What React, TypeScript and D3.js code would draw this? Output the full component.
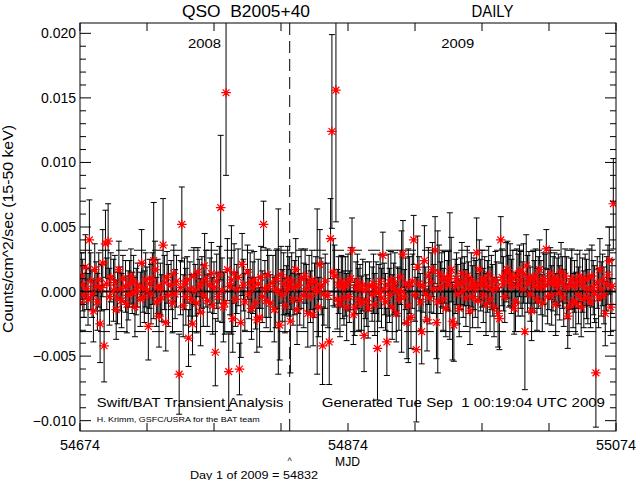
import React from "react";
import * as d3 from "d3";

// Swift/BAT daily light curve of QSO B2005+40; index i -> MJD = START_MJD + i (null = no data)
const START_MJD = 54674;
const X_DOMAIN = [54674, 55074];
const Y_DOMAIN = [-0.0108, 0.0208];
const X_TICK_STEP = 50;
const X_LABELS = [54674, 54874, 55074];
const Y_MAJOR = [-0.01, -0.005, 0, 0.005, 0.01, 0.015, 0.02];
const Y_MINOR_STEP = 0.001;
const UPPER_LIMIT = 0.0032;
const LOWER_LIMIT = -0.0031;
const YEAR_MARK_MJD = 54830.5;
const YEAR_LABELS = [
  { text: "2008", mjd: 54767 },
  { text: "2009", mjd: 54956 },
];

const RATE: (number | null)[] = [
  -0.0009, 0.0012, 0.0005, -0.0003, 0.0019, 0.0002, -0.0006, 0.004, 0.0008, -0.0002,
  -0.0015, 0.0017, 0.0004, -0.0008, 0.0009, -0.0025, 0.0003, 0.0022, -0.0042, 0.0037,
  0.0006, 0.0039, -0.0004, 0.0011, null, 0.0001, 0.0007, -0.0014, -0.0005, 0.0017,
  0.0002, -0.0007, 0.001, null, 0.0004, -0.001, -0.0003, 0.0006, 0.0012, -0.0001,
  0.0008, -0.0012, 0.0, 0.0005, null, -0.0006, 0.0022, 0.0003, -0.0004, 0.0009,
  0.0001, -0.0027, 0.0006, -0.0002, 0.001, 0.0024, 0.0017, -0.0008, 0.0004, -0.0019,
  0.0002, -0.0005, 0.0036, 0.0007, -0.0024, 0.0011, -0.0003, null, 0.0005, -0.0009,
  0.0014, -0.0002, 0.0008, null, -0.0064, 0.0003, 0.0052, -0.0011, 0.0006, -0.0004,
  0.0009, -0.0036, 0.0002, -0.0006, -0.0025, 0.0012, 0.0001, -0.0009, 0.0015, 0.0004,
  -0.0016, 0.0007, -0.0003, 0.002, 0.001, -0.0007, null, 0.0005, 0.0014, -0.0011,
  0.0003, -0.0047, 0.0008, -0.0004, 0.0013, 0.0065, 0.0001, -0.0012, -0.0009, 0.0154,
  0.0017, -0.0062, 0.0004, 0.0009, -0.0021, 0.0014, -0.0006, 0.0002, 0.0011, -0.006,
  -0.0024, 0.0021, 0.0005, -0.0008, null, 0.0015, -0.0002, 0.0007, -0.0013, 0.0003,
  0.0009, -0.0009, -0.0022, 0.0006, -0.002, 0.0011, -0.0004, 0.0052, 0.0002, -0.0007,
  0.0013, 0.0004, -0.0009, null, 0.0007, -0.0014, 0.0002, 0.001, 0.0, -0.0026,
  0.0013, -0.0003, 0.0006, -0.0011, 0.0001, 0.0009, 0.0004, -0.0023, 0.0008, -0.0006,
  0.0003, 0.0017, -0.0014, 0.0005, -0.0006, 0.001, null, -0.0003, 0.0012, 0.0002,
  -0.0017, 0.0006, -0.0004, 0.0009, -0.0018, 0.0001, 0.0007, 0.0, -0.0012, 0.0021,
  0.0004, -0.0042, -0.0002, 0.0008, null, -0.0003, -0.0039, 0.0041, 0.0124, 0.0015,
  0.0012, 0.0156, -0.0006, 0.0005, -0.001, 0.0008, 0.0003, -0.0005, 0.0004, -0.0012,
  0.0007, -0.0004, 0.001, 0.0032, -0.0018, -0.0012, 0.0003, 0.0008, -0.0006, 0.0002,
  -0.0009, 0.0005, -0.0034, 0.0001, -0.0007, -0.0013, 0.0004, null, -0.0002, 0.0006,
  -0.001, 0.0003, -0.0044, -0.0001, 0.0008, -0.0005, 0.0028, 0.0002, -0.0008, -0.0039,
  0.0005, -0.0003, 0.0009, -0.0012, 0.0002, 0.0007, -0.0017, 0.0, -0.0006, 0.0011,
  0.0, 0.0029, -0.0004, 0.0006, -0.0024, -0.0011, 0.0005, -0.002, 0.0008, 0.004,
  -0.0003, -0.0045, 0.0019, 0.0006, -0.0008, -0.0031, 0.0004, 0.0024, -0.0002, -0.0022,
  0.0012, -0.0005, 0.0007, 0.0017, 0.0002, 0.0032, -0.0024, -0.0008, 0.0014, 0.0003,
  0.0009, -0.0006, 0.0011, -0.0013, 0.0005, 0.0008, 0.0012, 0.0017, -0.0023, -0.0026,
  0.0004, 0.001, -0.0002, -0.0013, 0.0006, 0.0014, 0.0001, 0.0008, -0.0005, 0.0012,
  0.0003, -0.0015, 0.0009, -0.0004, 0.0006, 0.0002, 0.003, -0.0007, 0.0017, 0.0005,
  0.001, -0.0003, 0.0008, -0.001, 0.0004, 0.0013, -0.0006, 0.0007, 0.0001, -0.0012,
  0.0009, 0.0003, -0.0017, -0.0021, 0.004, 0.0011, 0.0006, -0.0004, 0.0015, 0.0017,
  0.0008, 0.0013, 0.0004, 0.001, -0.0013, -0.0008, 0.0012, 0.0005, 0.0016, 0.0009,
  0.0002, 0.0014, -0.0031, 0.002, 0.0006, 0.0011, -0.0002, -0.0015, 0.0009, 0.0004,
  0.0012, -0.0006, 0.0007, 0.0017, 0.0003, -0.0009, 0.001, 0.0005, 0.0033, -0.0004,
  0.0008, 0.0014, -0.0003, 0.0006, 0.0011, -0.001, 0.0004, 0.0009, -0.0001, 0.0015,
  0.0007, -0.0005, 0.0012, 0.0003, -0.0019, -0.0012, 0.0006, 0.001, -0.0007, 0.0004,
  -0.0009, 0.0008, -0.0003, 0.0012, -0.0012, 0.0005, -0.0006, 0.0009, 0.0002, -0.0004,
  0.0011, -0.0008, 0.0012, 0.0003, -0.0002, -0.0063, 0.0007, -0.0005, 0.0017, 0.0002,
  0.0009, -0.0003, -0.0017, 0.0006, 0.0013, 0.0024, -0.0012, 0.0004, 0.0068, null,
];

const ERR: (number | null)[] = [
  0.0022, 0.0018, 0.002, 0.0017, 0.0025, 0.0016, 0.002, 0.0031, 0.0022, 0.0018,
  0.0024, 0.002, 0.0019, 0.0022, 0.0021, 0.003, 0.0018, 0.0026, 0.0028, 0.0026,
  0.002, 0.0029, 0.0022, 0.0019, null, 0.0024, 0.0021, 0.0023, 0.002, 0.0022,
  0.0017, 0.0021, 0.0018, null, 0.002, 0.0022, 0.0019, 0.0018, 0.0021, 0.0016,
  0.002, 0.0023, 0.0018, 0.0017, null, 0.0021, 0.0026, 0.0019, 0.002, 0.0021,
  0.0018, 0.0026, 0.0019, 0.0023, 0.002, 0.0045, 0.0022, 0.0019, 0.0021, 0.0024,
  0.002, 0.0018, 0.0036, 0.0021, 0.0022, 0.002, 0.0024, null, 0.0019, 0.0023,
  0.0022, 0.0019, 0.002, null, 0.0031, 0.0021, 0.0029, 0.0024, 0.002, 0.0022,
  0.0018, 0.0022, 0.0021, 0.0019, 0.0024, 0.0022, 0.002, 0.0023, 0.0019, 0.0021,
  0.0026, 0.002, 0.0024, 0.0025, 0.0022, 0.002, null, 0.0021, 0.0024, 0.0022,
  0.002, 0.0026, 0.0021, 0.0019, 0.0022, 0.0056, 0.0025, 0.0027, 0.0024, 0.0064,
  0.0024, 0.003, 0.0022, 0.0042, 0.0026, 0.0023, 0.0021, 0.0019, 0.0022, 0.002,
  0.0027, 0.0024, 0.002, 0.0022, null, 0.0021, 0.0019, 0.0023, 0.0024, 0.002,
  0.0022, 0.002, 0.0025, 0.0019, 0.0023, 0.0024, 0.002, 0.0018, 0.0022, 0.0021,
  0.002, 0.0024, 0.0022, null, 0.0021, 0.0025, 0.003, 0.0023, 0.0064, 0.0027,
  0.0022, 0.002, 0.0024, 0.0021, 0.0019, 0.0026, 0.0023, 0.004, 0.0022, 0.002,
  0.0021, 0.0024, 0.0027, 0.0022, 0.002, 0.0023, null, 0.0025, 0.0021, 0.0019,
  0.0026, 0.0022, 0.002, 0.0023, 0.0024, 0.0021, 0.002, 0.0064, 0.0023, 0.0027,
  0.0022, 0.003, 0.0024, 0.0021, null, 0.0025, 0.0033, 0.0031, 0.0075, 0.0026,
  0.0024, 0.0102, 0.0023, 0.0022, 0.0025, 0.002, 0.0024, 0.0021, 0.0023, 0.0026,
  0.0022, 0.002, 0.0024, 0.0025, 0.0023, 0.0022, 0.002, 0.0021, 0.0024, 0.0019,
  0.0021, 0.002, 0.0028, 0.0022, 0.002, 0.0023, 0.0019, null, 0.0021, 0.0023,
  0.0024, 0.002, 0.004, 0.0022, 0.0021, 0.0023, 0.0018, 0.002, 0.0022, 0.0026,
  0.0024, 0.0021, 0.0022, 0.0025, 0.002, 0.0023, 0.0022, 0.0019, 0.0024, 0.0021,
  0.0047, 0.0026, 0.0021, 0.002, 0.0028, 0.0044, 0.0022, 0.0024, 0.0021, 0.0019,
  0.002, 0.0056, 0.0024, 0.0021, 0.0022, 0.0025, 0.002, 0.0027, 0.0021, 0.0024,
  0.0022, 0.002, 0.0023, 0.0021, 0.0019, 0.0026, 0.0028, 0.0055, 0.0022, 0.002,
  0.0021, 0.0024, 0.002, 0.0022, 0.0019, 0.0023, 0.0049, 0.0025, 0.003, 0.0028,
  0.0021, 0.002, 0.0023, 0.0022, 0.002, 0.0024, 0.0021, 0.0019, 0.0022, 0.0023,
  0.002, 0.0026, 0.0021, 0.0024, 0.002, 0.0022, 0.0027, 0.0021, 0.0023, 0.002,
  0.0022, 0.0021, 0.0019, 0.0024, 0.002, 0.0022, 0.0025, 0.0021, 0.002, 0.0023,
  0.0022, 0.002, 0.0026, 0.0024, 0.0018, 0.0022, 0.0021, 0.002, 0.0023, 0.0022,
  0.002, 0.0024, 0.0021, 0.0022, 0.002, 0.0023, 0.0021, 0.0024, 0.002, 0.0022,
  0.0021, 0.0023, 0.0045, 0.0024, 0.0022, 0.002, 0.0021, 0.0023, 0.0022, 0.002,
  0.0021, 0.0024, 0.002, 0.0023, 0.0021, 0.0022, 0.002, 0.0024, 0.0015, 0.0021,
  0.0022, 0.002, 0.0023, 0.0021, 0.0019, 0.0024, 0.0022, 0.002, 0.0021, 0.0023,
  0.002, 0.0022, 0.0021, 0.0024, 0.0025, 0.0022, 0.002, 0.0023, 0.0021, 0.002,
  0.0024, 0.0021, 0.0022, 0.002, 0.0023, 0.0021, 0.0022, 0.002, 0.0023, 0.0021,
  0.0022, 0.002, 0.0024, 0.0021, 0.0022, 0.0042, 0.002, 0.0023, 0.0024, 0.0021,
  0.002, 0.0022, 0.0025, 0.0021, 0.0023, 0.0026, 0.0022, 0.0021, 0.0035, null,
];

const FONT = "'Liberation Sans', Arial, sans-serif";

export default function App() {
  const L = 80, R = 616, T = 23, B = 431;
  const x = d3.scaleLinear().domain(X_DOMAIN).range([L, R]);
  const y = d3.scaleLinear().domain(Y_DOMAIN).range([B, T]);

  const points = RATE.map((r, i) =>
    r == null || ERR[i] == null ? null : { mjd: START_MJD + i, r, e: ERR[i] as number }
  ).filter((p): p is { mjd: number; r: number; e: number } => p !== null);

  const xTicks = d3.range(X_DOMAIN[0], X_DOMAIN[1] + 1, X_TICK_STEP);
  const yMinor = d3
    .range(Math.round(-0.01 / Y_MINOR_STEP), Math.round(0.02 / Y_MINOR_STEP) + 1)
    .map((k) => k * Y_MINOR_STEP)
    .filter((v) => !Y_MAJOR.some((m) => Math.abs(m - v) < 1e-9));
  const fmt = (v: number) => d3.format(".3f")(v).replace("-", "\u2212");

  const r = 4.8;
  const d = 3.4;
  const star = (cx: number, cy: number) =>
    `M${cx - r},${cy}H${cx + r}M${cx},${cy - r}V${cy + r}` +
    `M${cx - d},${cy - d}L${cx + d},${cy + d}M${cx - d},${cy + d}L${cx + d},${cy - d}`;

  const cap = 3;
  const barsPath = points
    .map((p) => {
      const cx = x(p.mjd);
      const y1 = y(p.r + p.e);
      const y0 = y(p.r - p.e);
      return `M${cx},${y0}V${y1}M${cx - cap},${y1}H${cx + cap}M${cx - cap},${y0}H${cx + cap}`;
    })
    .join("");
  const starsPath = points.map((p) => star(x(p.mjd), y(p.r))).join("");

  return (
    <svg
      width={640}
      height={480}
      style={{ position: "absolute", left: 0, top: 0, background: "#fff" }}
      fontFamily={FONT}
    >
      <defs>
        <clipPath id="plotclip">
          <rect x={L} y={T} width={R - L} height={B - T} />
        </clipPath>
      </defs>
      <rect x={0} y={0} width={640} height={480} fill="#fff" />

      <g clipPath="url(#plotclip)">
        <path d={barsPath} stroke="#000" strokeWidth={1} fill="none" />
        <line x1={L} x2={R} y1={y(0)} y2={y(0)} stroke="#000" strokeWidth={2} />
        <line x1={L} x2={R} y1={y(UPPER_LIMIT)} y2={y(UPPER_LIMIT)} stroke="#000" strokeWidth={1} strokeDasharray="12,6" />
        <line x1={L} x2={R} y1={y(LOWER_LIMIT)} y2={y(LOWER_LIMIT)} stroke="#000" strokeWidth={1} strokeDasharray="12,6" />
        <line x1={x(YEAR_MARK_MJD)} x2={x(YEAR_MARK_MJD)} y1={T} y2={B} stroke="#000" strokeWidth={1} strokeDasharray="12,6" />
        <path d={starsPath} stroke="#ff0000" strokeWidth={1.2} fill="none" />
      </g>

      {/* frame */}
      <rect x={L} y={T} width={R - L} height={B - T} fill="none" stroke="#000" strokeWidth={1} />

      {/* x ticks */}
      {xTicks.map((t) => (
        <g key={"xt" + t}>
          <line x1={x(t)} x2={x(t)} y1={B} y2={B - 8} stroke="#000" />
          <line x1={x(t)} x2={x(t)} y1={T} y2={T + 8} stroke="#000" />
        </g>
      ))}
      {X_LABELS.map((t) => (
        <text key={"xl" + t} x={x(t)} y={450} fontSize={14} textAnchor="middle" textLength={40} lengthAdjust="spacingAndGlyphs">
          {t}
        </text>
      ))}

      {/* y ticks */}
      {Y_MAJOR.map((v) => (
        <g key={"ym" + v}>
          <line x1={L} x2={L + 11} y1={y(v)} y2={y(v)} stroke="#000" />
          <line x1={R} x2={R - 11} y1={y(v)} y2={y(v)} stroke="#000" />
          <text x={76} y={y(v) + 5} fontSize={14} textAnchor="end">
            {fmt(v)}
          </text>
        </g>
      ))}
      {yMinor.map((v) => (
        <g key={"yn" + v}>
          <line x1={L} x2={L + 6} y1={y(v)} y2={y(v)} stroke="#000" />
          <line x1={R} x2={R - 6} y1={y(v)} y2={y(v)} stroke="#000" />
        </g>
      ))}

      {/* titles */}
      <text x={246} y={17} fontSize={16} textAnchor="middle" textLength={128} lengthAdjust="spacingAndGlyphs" style={{ whiteSpace: "pre" }}>
        {"QSO  B2005+40"}
      </text>
      <text x={492.5} y={17} fontSize={16} textAnchor="middle" textLength={42} lengthAdjust="spacingAndGlyphs">
        DAILY
      </text>
      {YEAR_LABELS.map((yl) => (
        <text key={yl.text} x={x(yl.mjd)} y={47.5} fontSize={13} textAnchor="middle" textLength={33} lengthAdjust="spacingAndGlyphs">
          {yl.text}
        </text>
      ))}

      <text
        transform="translate(13,229) rotate(-90)"
        fontSize={14}
        textAnchor="middle"
        textLength={208}
        lengthAdjust="spacingAndGlyphs"
      >
        Counts/cm^2/sec (15-50 keV)
      </text>

      <text x={347.5} y={465.5} fontSize={13} textAnchor="middle" textLength={25} lengthAdjust="spacingAndGlyphs">
        MJD
      </text>
      <text x={x(YEAR_MARK_MJD)} y={464} fontSize={9} textAnchor="middle">
        ^
      </text>
      <text x={190} y={479} fontSize={11} textLength={128} lengthAdjust="spacingAndGlyphs">
        Day 1 of 2009 = 54832
      </text>

      <text x={96.7} y={407.3} fontSize={13} textLength={186.7} lengthAdjust="spacingAndGlyphs">
        Swift/BAT Transient Analysis
      </text>
      <text x={96.7} y={421.7} fontSize={8} textLength={163} lengthAdjust="spacingAndGlyphs">
        H. Krimm, GSFC/USRA for the BAT team
      </text>
      <text x={321.7} y={407.3} fontSize={13} textLength={283.3} lengthAdjust="spacingAndGlyphs" style={{ whiteSpace: "pre" }}>
        {"Generated Tue Sep  1 00:19:04 UTC 2009"}
      </text>
    </svg>
  );
}
